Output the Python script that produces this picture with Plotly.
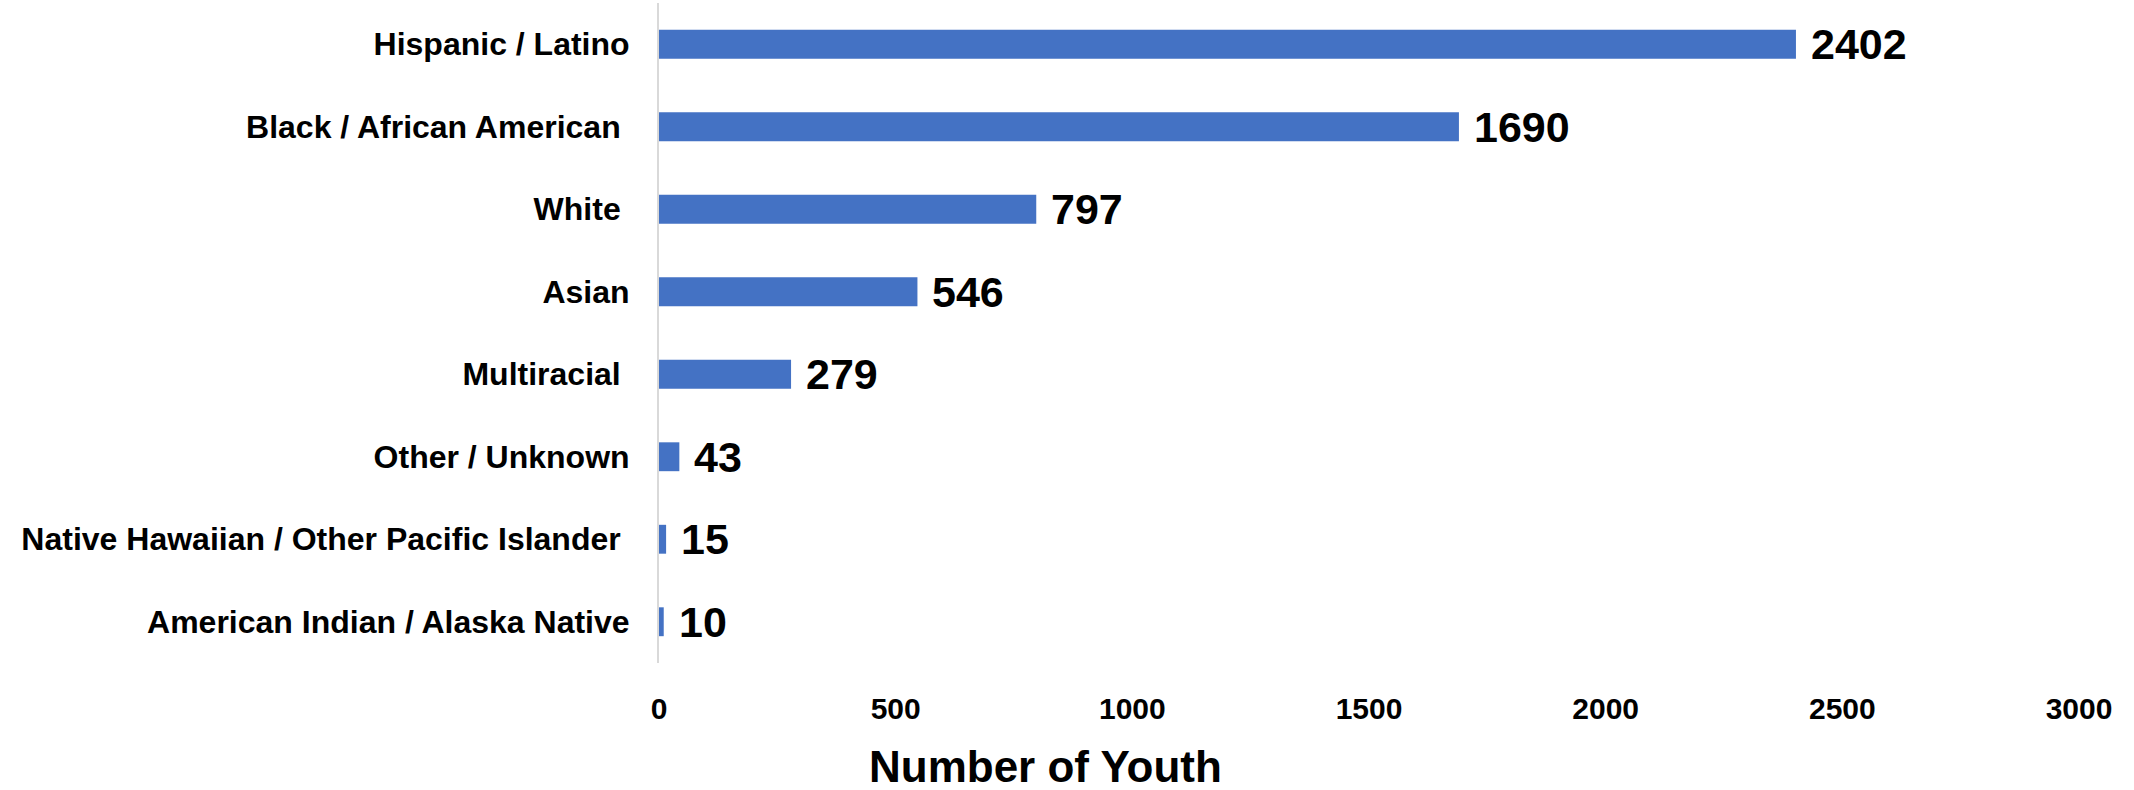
import plotly.graph_objects as go

categories = [
    "American Indian / Alaska Native",
    "Native Hawaiian / Other Pacific Islander ",
    "Other / Unknown",
    "Multiracial ",
    "Asian",
    "White ",
    "Black / African American ",
    "Hispanic / Latino",
]
values = [10, 15, 43, 279, 546, 797, 1690, 2402]
x_ticks = [0, 500, 1000, 1500, 2000, 2500, 3000]
x_title = "Number of Youth"

FONT = "Liberation Sans, Arial, sans-serif"
BAR = "#4472C4"

fig = go.Figure()
fig.add_trace(go.Bar(
    x=values,
    y=categories,
    orientation="h",
    marker=dict(color=BAR, line=dict(width=0)),
    hoverinfo="skip",
))

for c, v in zip(categories, values):
    fig.add_annotation(
        x=v, y=c, xref="x", yref="y",
        text=f"<b>{v}</b>", showarrow=False,
        xanchor="left", yanchor="middle", xshift=13,
        font=dict(family=FONT, size=43, color="#000000"),
    )

fig.add_annotation(
    x=0.272, y=0, xref="paper", yref="paper",
    text=f"<b>{x_title}</b>", showarrow=False,
    xanchor="center", yanchor="middle", yshift=-103,
    font=dict(family=FONT, size=44, color="#000000"),
)

fig.update_layout(
    width=2134, height=790,
    margin=dict(l=659, r=55, t=3, b=127, autoexpand=False),
    paper_bgcolor="white", plot_bgcolor="white",
    bargap=0.65,
    showlegend=False,
    font=dict(family=FONT, color="#000000"),
)
fig.update_xaxes(
    range=[0, 3000],
    tickvals=x_ticks,
    ticktext=[f"<b>{t}</b>" for t in x_ticks],
    tickfont=dict(family=FONT, size=30, color="#000000"),
    showgrid=False, zeroline=False, showline=False,
    ticks="outside", ticklen=19, tickcolor="rgba(0,0,0,0)",
    automargin=False,
)
fig.update_yaxes(
    tickvals=categories,
    ticktext=[f"<b>{c}</b>" for c in categories],
    tickfont=dict(family=FONT, size=32, color="#000000"),
    showgrid=False, zeroline=False,
    showline=True, linecolor="#D9D9D9", linewidth=2,
    ticks="outside", ticklen=21, tickcolor="rgba(0,0,0,0)",
    automargin=False,
)

fig.write_html(
    "out.html",
    config={"displayModeBar": False},
    post_script="document.body.style.margin='0px';document.body.style.overflow='hidden';",
)
